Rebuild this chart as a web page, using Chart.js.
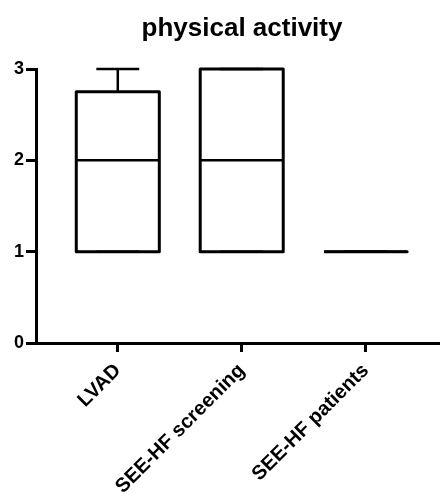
<!DOCTYPE html>
<html>
<head>
<meta charset="utf-8">
<script src="https://cdn.jsdelivr.net/npm/chart.js@4"></script>
<style>
  html, body { margin: 0; padding: 0; background: #fff; }
  #wrap { width: 440px; height: 494px; position: relative; }
</style>
</head>
<body>
<div id="wrap"><canvas id="chart"></canvas></div>
<script>
// Groups on the horizontal axis
const categories = ['LVAD', 'SEE-HF screening', 'SEE-HF patients'];
// Five-number summaries per group (physical activity score)
const minimum = [1, 1, 1];
const lowerQuartile = [1, 1, 1];
const median = [2, 2, 1];
const upperQuartile = [2.75, 3, 1];
const maximum = [3, 3, 1];
// Value-axis ticks
const yTicks = [0, 1, 2, 3];

const BOX_HALF = 0.335;   // half box width, in category units
const CAP_HALF = 0.173;   // half whisker-cap width

function seg(points, width) {
  return {
    data: points.map(([x, y]) => ({ x, y })),
    showLine: true,
    borderColor: '#000',
    borderWidth: width,
    pointRadius: 0,
    pointHoverRadius: 0,
    borderJoinStyle: 'round',
    borderCapStyle: 'butt',
    tension: 0,
    fill: false,
    clip: false
  };
}

const datasets = [];
categories.forEach((c, i) => {
  const x = i + 1;
  // whiskers and caps
  datasets.push(seg([[x, upperQuartile[i]], [x, maximum[i]]], 2.5));
  datasets.push(seg([[x - CAP_HALF, maximum[i]], [x + CAP_HALF, maximum[i]]], 2.5));
  datasets.push(seg([[x, lowerQuartile[i]], [x, minimum[i]]], 2.5));
  datasets.push(seg([[x - CAP_HALF, minimum[i]], [x + CAP_HALF, minimum[i]]], 2.5));
  // box
  datasets.push(seg([
    [x - BOX_HALF, lowerQuartile[i]],
    [x + BOX_HALF, lowerQuartile[i]],
    [x + BOX_HALF, upperQuartile[i]],
    [x - BOX_HALF, upperQuartile[i]],
    [x - BOX_HALF, lowerQuartile[i]]
  ], 3));
  // median
  datasets.push(seg([[x - BOX_HALF, median[i]], [x + BOX_HALF, median[i]]], 2.5));
});

const fontFamily = "'Liberation Sans', Arial, sans-serif";

// nudge the title a little to the right of the plot-area centre
const titleNudge = {
  id: 'titleNudge',
  afterLayout(chart) {
    const t = chart.titleBlock;
    if (t) { t.left += 4; t.right += 4; }
  }
};

new Chart(document.getElementById('chart'), {
  type: 'scatter',
  data: { datasets },
  plugins: [titleNudge],
  options: {
    responsive: true,
    maintainAspectRatio: false,
    animation: false,
    devicePixelRatio: 1,
    layout: { padding: { left: 0, right: 0, top: 0, bottom: 0 } },
    plugins: {
      legend: { display: false },
      tooltip: { enabled: false },
      title: {
        display: true,
        text: 'physical activity',
        color: '#000',
        fullSize: false,
        font: { family: fontFamily, size: 26, weight: 'bold', lineHeight: 1.2 },
        padding: { top: 13, bottom: 24.8 }
      }
    },
    scales: {
      x: {
        type: 'linear',
        min: 0.34,
        max: 3.6,
        afterBuildTicks: (axis) => { axis.ticks = categories.map((_, i) => ({ value: i + 1 })); },
        afterFit: (axis) => { axis.height = 151; },
        ticks: {
          autoSkip: false,
          minRotation: 45,
          maxRotation: 45,
          color: '#000',
          font: { family: fontFamily, size: 20, weight: 'bold' },
          padding: 7,
          callback: (v) => categories[v - 1]
        },
        grid: {
          drawOnChartArea: false,
          drawTicks: true,
          tickLength: 9,
          tickColor: '#000',
          tickWidth: 3,
          lineWidth: 3
        },
        border: { display: true, color: '#000', width: 3 }
      },
      y: {
        type: 'linear',
        min: 0,
        max: 3,
        afterBuildTicks: (axis) => { axis.ticks = yTicks.map(v => ({ value: v })); },
        afterFit: (axis) => { axis.width = 36; },
        ticks: {
          color: '#000',
          font: { family: fontFamily, size: 18, weight: 'bold' },
          padding: 2,
          callback: (v) => String(v)
        },
        grid: {
          drawOnChartArea: false,
          drawTicks: true,
          tickLength: 10,
          tickColor: '#000',
          tickWidth: 3,
          lineWidth: 3
        },
        border: { display: true, color: '#000', width: 3 }
      }
    }
  }
});
</script>
</body>
</html>
